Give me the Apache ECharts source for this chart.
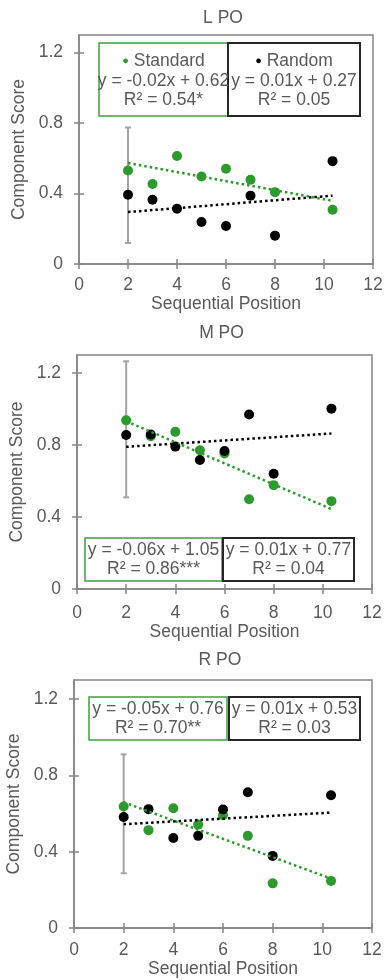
<!DOCTYPE html>
<html><head><meta charset="utf-8">
<script src="https://cdn.jsdelivr.net/npm/echarts@6/dist/echarts.min.js"></script>
<style>html,body{margin:0;padding:0;background:#fff}#c{width:386px;height:980px}</style>
</head><body><div id="c"></div>
<script>
// ---------- data ----------
const positions = [2, 3, 4, 5, 6, 7, 8, 10.35];
const xTicks = [0, 2, 4, 6, 8, 10, 12];
const yTicks = [0, 0.4, 0.8, 1.2];
const panelTitles = ['L PO', 'M PO', 'R PO'];
const xAxisName = 'Sequential Position';
const yAxisName = 'Component Score';
const seriesNames = ['Standard', 'Random'];

const lStandard = [0.531, 0.454, 0.613, 0.497, 0.541, 0.478, 0.408, 0.308];
const lRandom   = [0.393, 0.365, 0.314, 0.238, 0.216, 0.388, 0.161, 0.584];
const mStandard = [0.937, 0.849, 0.873, 0.771, 0.753, 0.499, 0.577, 0.488];
const mRandom   = [0.856, 0.858, 0.791, 0.717, 0.767, 0.969, 0.640, 1.002];
const rStandard = [0.637, 0.513, 0.628, 0.542, 0.591, 0.483, 0.234, 0.247];
const rRandom   = [0.582, 0.623, 0.472, 0.483, 0.621, 0.712, 0.378, 0.696];

const trendX = [2, 10.35];
const lStandardTrend = [0.573, 0.359];
const lRandomTrend   = [0.295, 0.388];
const mStandardTrend = [0.932, 0.444];
const mRandomTrend   = [0.790, 0.864];
const rStandardTrend = [0.659, 0.259];
const rRandomTrend   = [0.544, 0.605];

const errX = 2;
const lErr = [0.119, 0.775];
const mErr = [0.509, 1.265];
const rErr = [0.287, 0.910];

const eqStandard = ['y = -0.02x + 0.62', 'y = -0.06x + 1.05', 'y = -0.05x + 0.76'];
const r2Standard = ['R² = 0.54*', 'R² = 0.86***', 'R² = 0.70**'];
const eqRandom   = ['y = 0.01x + 0.27', 'y = 0.01x + 0.77', 'y = 0.01x + 0.53'];
const r2Random   = ['R² = 0.05', 'R² = 0.04', 'R² = 0.03'];

// ---------- style / layout ----------
const GREEN = '#2c9a2c', BLACK = '#000000', TXT = '#595959', AX = '#858585';
const FONT = '"Liberation Sans", Arial, sans-serif';
const FS = 17.5;
const panels = [
  {std: lStandard, rnd: lRandom, stdT: lStandardTrend, rndT: lRandomTrend, err: lErr,
   grid: {left: 79, top: 35, width: 294, height: 229}, titleTop: 9, labelMargin: 12, xGap: 25, yGap: 44,
   gBox: [99, 43, 129, 73], bBox: [228, 43, 132, 73], legendLine: true},
  {std: mStandard, rnd: mRandom, stdT: mStandardTrend, rndT: mRandomTrend, err: mErr,
   grid: {left: 77, top: 355, width: 295, height: 234}, titleTop: 324, labelMargin: 15, xGap: 34, yGap: 42,
   gBox: [85, 538, 137, 43], bBox: [223, 538, 131, 43], legendLine: false},
  {std: rStandard, rnd: rRandom, stdT: rStandardTrend, rndT: rRandomTrend, err: rErr,
   grid: {left: 74, top: 680, width: 298, height: 248}, titleTop: 651, labelMargin: 13, xGap: 30, yGap: 39,
   gBox: [89, 697, 138, 43], bBox: [229, 697, 131, 43], legendLine: false}
];

const grid = [], xAxis = [], yAxis = [], series = [], title = [], graphic = [];
const textStyle = {color: TXT, fontSize: FS, fontFamily: FONT};

panels.forEach((p, i) => {
  grid.push(Object.assign({show: true, borderColor: AX, borderWidth: 1.5, backgroundColor: 'transparent', containLabel: false, outerBoundsMode: 'none'}, p.grid));
  title.push({text: panelTitles[i], left: p.grid.left + p.grid.width / 2 - 3, top: p.titleTop, textAlign: 'center', padding: 0,
    textStyle: {color: TXT, fontSize: FS, fontWeight: 'normal', fontFamily: FONT}});
  xAxis.push({type: 'value', gridIndex: i, position: 'bottom', min: 0, max: 12, interval: 2,
    name: xAxisName, nameLocation: 'middle', nameGap: p.xGap, nameTextStyle: textStyle,
    axisLine: {show: true, onZero: false, lineStyle: {color: AX, width: 1.5}},
    axisTick: {show: true, inside: false, length: 5, lineStyle: {color: AX, width: 1.5}, customValues: xTicks},
    axisLabel: Object.assign({margin: p.labelMargin, customValues: xTicks}, textStyle),
    splitLine: {show: false}});
  xAxis.push({type: 'value', gridIndex: i, position: 'bottom', min: 0, max: 12, interval: 2,
    axisLine: {show: false, onZero: false},
    axisTick: {show: true, inside: true, length: 5, lineStyle: {color: AX, width: 1.5}, customValues: xTicks},
    axisLabel: {show: false}, splitLine: {show: false}});
  yAxis.push({type: 'value', gridIndex: i, position: 'left', min: 0, max: 1.3, interval: 0.4,
    name: yAxisName, nameLocation: 'middle', nameGap: p.yGap, nameTextStyle: textStyle,
    axisLine: {show: true, onZero: false, lineStyle: {color: AX, width: 1.5}},
    axisTick: {show: true, inside: false, length: 5, lineStyle: {color: AX, width: 1.5}, customValues: yTicks},
    axisLabel: Object.assign({margin: 16, customValues: yTicks}, textStyle),
    splitLine: {show: false}});
  yAxis.push({type: 'value', gridIndex: i, position: 'left', min: 0, max: 1.3, interval: 0.4,
    axisLine: {show: false, onZero: false},
    axisTick: {show: true, inside: true, length: 5, lineStyle: {color: AX, width: 1.5}, customValues: yTicks},
    axisLabel: {show: false}, splitLine: {show: false}});

  const xi = 2 * i, yi = 2 * i;
  series.push({type: 'custom', xAxisIndex: xi, yAxisIndex: yi, z: 1, silent: true,
    encode: {x: 0, y: [1, 2]},
    data: [[errX, p.err[0], p.err[1]]],
    renderItem: (params, api) => {
      const x = api.value(0);
      const a = api.coord([x, api.value(1)]), b = api.coord([x, api.value(2)]);
      const st = {stroke: '#a3a3a3', lineWidth: 2};
      return {type: 'group', children: [
        {type: 'line', shape: {x1: a[0], y1: a[1], x2: b[0], y2: b[1]}, style: st},
        {type: 'line', shape: {x1: a[0] - 3, y1: a[1], x2: a[0] + 3, y2: a[1]}, style: st},
        {type: 'line', shape: {x1: b[0] - 3, y1: b[1], x2: b[0] + 3, y2: b[1]}, style: st}
      ]};
    }});
  series.push({type: 'scatter', name: seriesNames[0], xAxisIndex: xi, yAxisIndex: yi, z: 2, symbolSize: 10,
    itemStyle: {color: GREEN, opacity: 1}, data: positions.map((x, k) => [x, p.std[k]])});
  series.push({type: 'scatter', name: seriesNames[1], xAxisIndex: xi, yAxisIndex: yi, z: 3, symbolSize: 10,
    itemStyle: {color: BLACK, opacity: 1}, data: positions.map((x, k) => [x, p.rnd[k]])});
  series.push({type: 'line', xAxisIndex: xi, yAxisIndex: yi, z: 4, symbol: 'none', silent: true,
    lineStyle: {color: GREEN, width: 2.5, type: [2.5, 3]}, data: trendX.map((x, k) => [x, p.stdT[k]])});
  series.push({type: 'line', xAxisIndex: xi, yAxisIndex: yi, z: 4, symbol: 'none', silent: true,
    lineStyle: {color: BLACK, width: 2.5, type: [2.5, 3]}, data: trendX.map((x, k) => [x, p.rndT[k]])});

  const boxes = [
    {r: p.gBox, color: '#3f9e3f', lw: 1.5, name: seriesNames[0], dot: GREEN, eq: eqStandard[i], r2: r2Standard[i]},
    {r: p.bBox, color: '#262626', lw: 2, name: seriesNames[1], dot: BLACK, eq: eqRandom[i], r2: r2Random[i]}
  ];
  boxes.forEach(b => {
    graphic.push({type: 'rect', z: 10, shape: {x: b.r[0], y: b.r[1], width: b.r[2], height: b.r[3]},
      style: {fill: '#fff', stroke: b.color, lineWidth: b.lw}});
    const cx = b.r[0] + b.r[2] / 2, cy = b.r[1] + b.r[3] / 2;
    const offs = p.legendLine ? [-18.5, 1.5, 20.5] : [-9.5, 9.5];
    if (p.legendLine) {
      graphic.push({type: 'text', z: 11, style: {x: cx, y: cy + offs[0], text: '{d|●} ' + b.name, align: 'center', verticalAlign: 'middle',
        fill: TXT, fontSize: FS, fontFamily: FONT,
        rich: {d: {fill: b.dot, fontSize: 11, fontFamily: FONT}}}});
    }
    const start = p.legendLine ? 1 : 0;
    [b.eq, b.r2].forEach((t, k) => {
      graphic.push({type: 'text', z: 11, style: {x: cx, y: cy + offs[start + k], text: t, align: 'center', verticalAlign: 'middle',
        fill: TXT, fontSize: FS, fontFamily: FONT}});
    });
  });
});

const chart = echarts.init(document.getElementById('c'), null, {renderer: 'canvas'});
chart.setOption({animation: false, backgroundColor: '#fff', title, grid, xAxis, yAxis, series, graphic});
</script></body></html>
